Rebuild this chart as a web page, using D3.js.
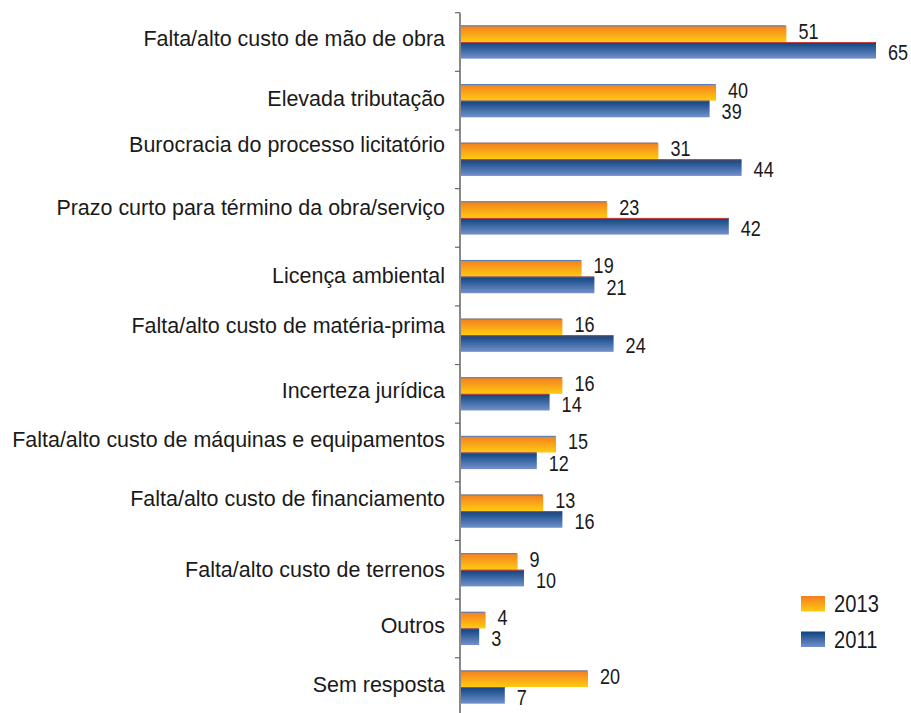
<!DOCTYPE html>
<html><head><meta charset="utf-8">
<script src="https://cdn.jsdelivr.net/npm/d3@7"></script>
<style>body{margin:0;background:#fff}svg{display:block}text{font-family:"Liberation Sans",Arial,sans-serif;fill:#1a1a1a}</style>
</head><body>
<svg id="c" width="911" height="713"></svg>
<script>
const categories = ["Falta/alto custo de mão de obra","Elevada tributação","Burocracia do processo licitatório","Prazo curto para término da obra/serviço","Licença ambiental","Falta/alto custo de matéria-prima","Incerteza jurídica","Falta/alto custo de máquinas e equipamentos","Falta/alto custo de financiamento","Falta/alto custo de terrenos","Outros","Sem resposta"];
const values2013 = [51,40,31,23,19,16,16,15,13,9,4,20];
const values2011 = [65,39,44,42,21,24,14,12,16,10,3,7];
const seriesNames = ["2013","2011"];

// layout tweaks (label vertical nudges relative to band centre, as in the original layout)
const labelNudge = [-4,-3,-15,-11,-1.6,-10,-4,-13.5,-13,-1,-3,-3];

const svg = d3.select("#c");
const defs = svg.append("defs");
function grad(id, c1, c2){
  const g = defs.append("linearGradient").attr("id",id).attr("x1",0).attr("y1",0).attr("x2",0).attr("y2",1);
  g.append("stop").attr("offset","0%").attr("stop-color",c1);
  g.append("stop").attr("offset","100%").attr("stop-color",c2);
}
grad("gO","#f47d20","#ffcb10");
grad("gB","#0b437f","#7291cc");

const x0 = 460;
const x = d3.scaleLinear().domain([0,65]).range([x0, x0+416]);
const y = d3.scaleBand().domain(categories).range([12.7, 12.7+12*58.64]).paddingInner(0).paddingOuter(0);
const inner = d3.scaleBand().domain(seriesNames).range([12.7, y.bandwidth()-12.7]);

const CAP = 0.716;
function stext(xp, capCenter, size, sx, anchor, str){
  return svg.append("text")
    .attr("transform",`translate(${xp},${capCenter + size*CAP/2}) scale(${sx},1)`)
    .attr("font-size",size).attr("text-anchor",anchor).text(str);
}

// axis
svg.append("line").attr("x1",x0).attr("x2",x0).attr("y1",12.7).attr("y2",713).attr("stroke","#6b6b6b").attr("stroke-width",1.6);
categories.forEach((c)=>{
  svg.append("line").attr("x1",x0-5).attr("x2",x0).attr("y1",y(c)).attr("y2",y(c)).attr("stroke","#6b6b6b").attr("stroke-width",1.2);
});

const series = [{name:"2013",vals:values2013,fill:"url(#gO)",edge:"#4f7fbf",dy:-2.5},{name:"2011",vals:values2011,fill:"url(#gB)",edge:"#c8403a",dy:2}];
series.forEach(s=>{
  categories.forEach((c,i)=>{
    const top = y(c)+inner(s.name);
    const h = inner.bandwidth();
    const w = x(s.vals[i])-x0;
    svg.append("rect").attr("x",x0+1).attr("y",top).attr("width",w-1).attr("height",h).attr("fill",s.fill);
    svg.append("line").attr("x1",x0+1).attr("x2",x0+w-1).attr("y1",top+0.5).attr("y2",top+0.5).attr("stroke",s.edge).attr("stroke-width",1);
    stext(x(s.vals[i])+12, top+h/2+s.dy, 21.5, 0.84, "start", s.vals[i]);
  });
});

// category labels: measure the widest label and condense to reference width
const probe = svg.append("text").attr("font-size",22).text(categories[7]);
const wide = probe.node().getComputedTextLength();
probe.remove();
const sxLab = Math.min(1, 433/wide);
categories.forEach((c,i)=>{
  stext(445, y(c)+y.bandwidth()/2+labelNudge[i], 22, sxLab, "end", c);
});

// legend
const leg = [{name:"2013",fill:"url(#gO)",y:596},{name:"2011",fill:"url(#gB)",y:631.5}];
leg.forEach(l=>{
  svg.append("rect").attr("x",801).attr("y",l.y).attr("width",24).attr("height",15.5).attr("fill",l.fill);
  stext(834, l.y+7.6, 24, 0.84, "start", l.name);
});
</script>
</body></html>
